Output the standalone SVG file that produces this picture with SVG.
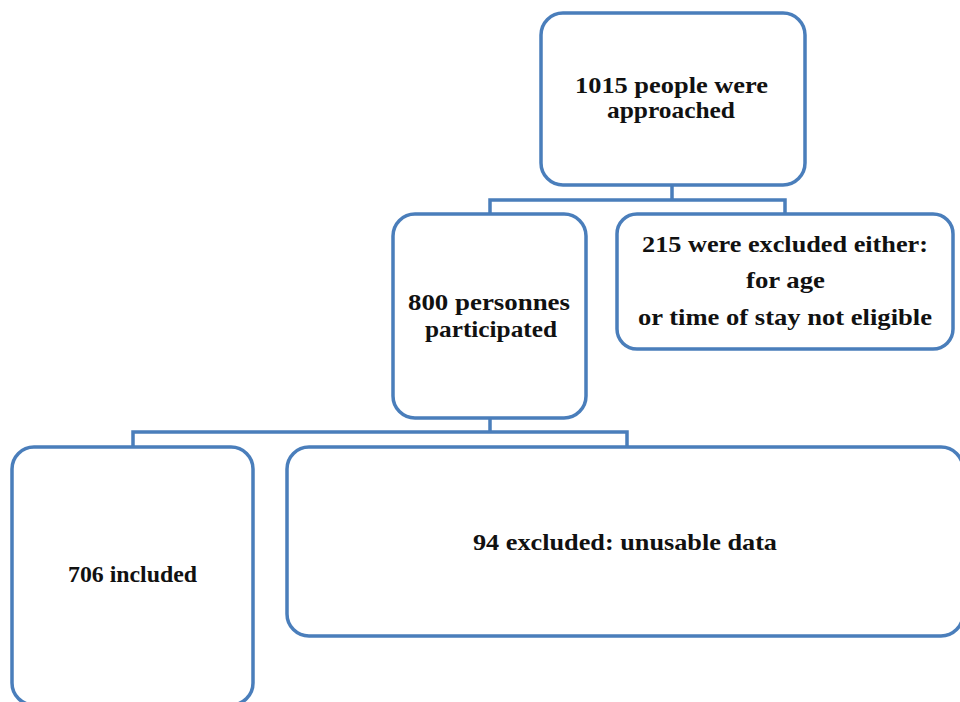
<svg xmlns="http://www.w3.org/2000/svg" width="960" height="702" viewBox="0 0 960 702">
<style>
.box{fill:#fff;stroke:#4a7ebb;stroke-width:3.5}
.conn{fill:none;stroke:#4a7ebb;stroke-width:3.5}
text{font-family:"Liberation Serif","Times New Roman",serif;font-weight:bold;font-size:24px;fill:#111;text-anchor:middle}
</style>
<rect width="960" height="702" fill="#fff"/>
<g id="connectors">
<path class="conn" d="M672,185 V200 M490,213 V200 H785 V213"/>
<path class="conn" d="M490,418 V432 M133,447 V432 H627 V447"/>
</g>
<g id="n1"><rect class="box" x="541" y="13" width="264" height="172" rx="22"/>
<text x="671.5" y="93" textLength="193" lengthAdjust="spacingAndGlyphs">1015 people were</text><text x="671" y="118" textLength="128" lengthAdjust="spacingAndGlyphs">approached</text></g>
<g id="n2"><rect class="box" x="393" y="214" width="193" height="204" rx="22"/>
<text x="489" y="310" textLength="162" lengthAdjust="spacingAndGlyphs">800 personnes</text><text x="491" y="337" textLength="132" lengthAdjust="spacingAndGlyphs">participated</text></g>
<g id="n3"><rect class="box" x="617" y="214" width="336" height="135" rx="20"/>
<text x="785" y="252" textLength="286" lengthAdjust="spacingAndGlyphs">215 were excluded either:</text><text x="785.5" y="288" textLength="79" lengthAdjust="spacingAndGlyphs">for age</text><text x="785" y="325" textLength="294" lengthAdjust="spacingAndGlyphs">or time of stay not eligible</text></g>
<g id="n4"><rect class="box" x="12" y="447" width="241" height="258" rx="22"/>
<text x="132.5" y="582" textLength="129" lengthAdjust="spacingAndGlyphs">706 included</text></g>
<g id="n5"><rect class="box" x="287" y="447" width="676" height="189" rx="22"/>
<text x="625" y="550" textLength="304" lengthAdjust="spacingAndGlyphs">94 excluded: unusable data</text></g>
</svg>
